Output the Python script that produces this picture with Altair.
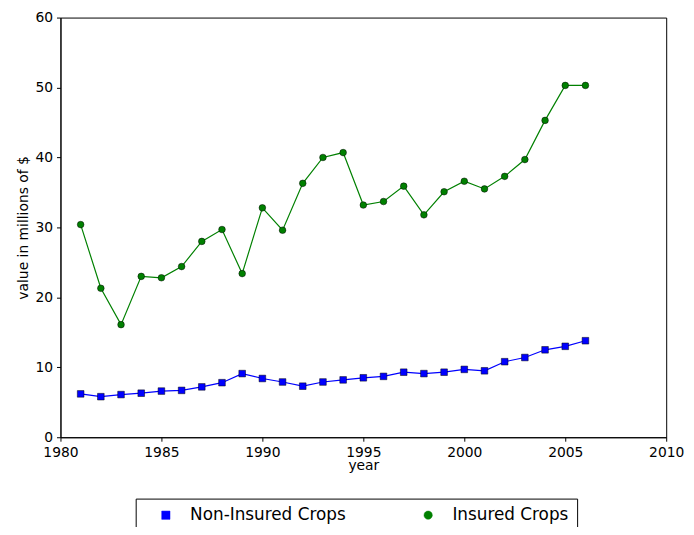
import altair as alt
import pandas as pd

years = list(range(1981, 2007))
insured = [30.4, 21.3, 16.1, 23.0, 22.8, 24.4, 28.0, 29.7, 23.4, 32.8, 29.6, 36.3, 40.0, 40.7,
           33.2, 33.7, 35.9, 31.8, 35.1, 36.6, 35.5, 37.3, 39.7, 45.3, 50.3, 50.3]
non_insured = [6.2, 5.8, 6.1, 6.3, 6.6, 6.7, 7.2, 7.8, 9.1, 8.4, 7.9, 7.3, 7.9, 8.2,
               8.5, 8.7, 9.3, 9.1, 9.3, 9.7, 9.5, 10.8, 11.4, 12.5, 13.0, 13.8]

df = pd.concat([
    pd.DataFrame({"year": years, "value": non_insured, "series": "Non-Insured Crops"}),
    pd.DataFrame({"year": years, "value": insured, "series": "Insured Crops"}),
])

order = ["Non-Insured Crops", "Insured Crops"]
legend = alt.Legend(title=None, orient="none", legendX=76, legendY=486,
                    direction="horizontal", labelFontSize=17, symbolSize=70,
                    columnPadding=60, strokeColor="black", padding=8,
                    symbolStrokeColor="black", symbolStrokeWidth=0.5,
                    labelColor="black", symbolOffset=14, labelOffset=16)
color = alt.Color("series:N", scale=alt.Scale(domain=order, range=["#0000ff", "#008000"]),
                  sort=order, legend=legend)
shape = alt.Shape("series:N", scale=alt.Scale(domain=order, range=["square", "circle"]),
                  sort=order, legend=legend)

x = alt.X("year:Q", scale=alt.Scale(domain=[1980, 2010], nice=False),
          axis=alt.Axis(values=list(range(1980, 2011, 5)), format="d", title="year",
                        titlePadding=0, labelFlush=False))
y = alt.Y("value:Q", scale=alt.Scale(domain=[0, 60], nice=False),
          axis=alt.Axis(values=list(range(0, 61, 10)), title="value in millions of $",
                        labelFlush=False))

base = alt.Chart(df)
lines = base.mark_line(strokeWidth=1.2).encode(x=x, y=y, color=color)
points = base.mark_point(filled=True, size=45, opacity=1, stroke="black", strokeWidth=0.5).encode(
    x=x, y=y, color=color, shape=shape)

chart = alt.layer(lines, points).properties(
    width=612, height=424,
    autosize=alt.AutoSizeParams(type="none"),
    padding={"left": 53, "top": 7, "right": 20, "bottom": 88},
).configure_view(stroke="black", strokeWidth=1).configure_axis(
    grid=False, domainColor="black", tickColor="black", labelColor="black",
    titleColor="black", labelFontSize=14, titleFontSize=14, labelFont="DejaVu Sans",
    titleFont="DejaVu Sans", titleFontWeight="normal", tickSize=4, labelPadding=4
).configure_legend(labelFont="DejaVu Sans")

chart.save("out.html", embed_options={"renderer": "svg", "actions": False})
